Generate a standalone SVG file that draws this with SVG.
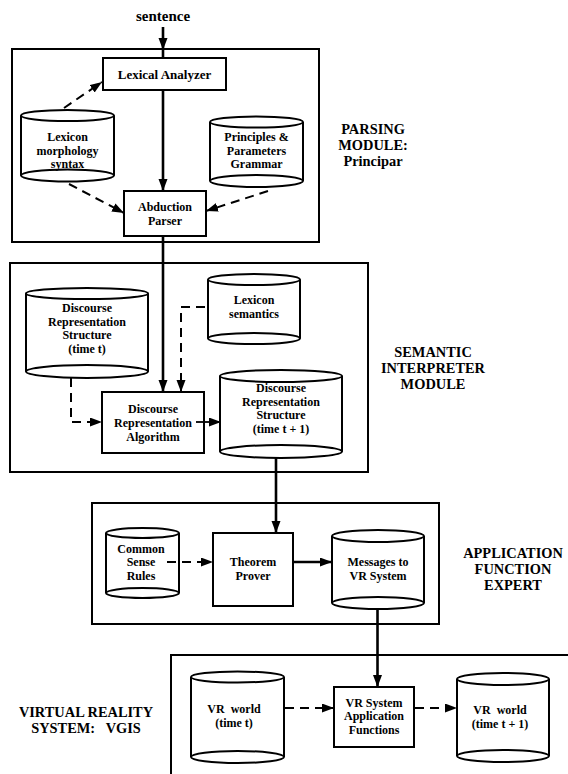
<svg xmlns="http://www.w3.org/2000/svg" width="568" height="774" viewBox="0 0 568 774">
<defs>
<style>
text{font-family:"Liberation Serif","Times New Roman",serif;font-weight:bold;fill:#000;text-anchor:middle}
.t{font-size:12px}
.lab{font-size:14.4px}
.mod{fill:none;stroke:#000;stroke-width:2}
.box{fill:#fff;stroke:#000;stroke-width:2}
.cyl{fill:none;stroke:#000;stroke-width:2}
.s{fill:none;stroke:#000;stroke-width:2.6}
.s2{fill:none;stroke:#000;stroke-width:1.8}
.d{fill:none;stroke:#000;stroke-width:2;stroke-dasharray:9 6}
</style>
<marker id="ah" markerUnits="userSpaceOnUse" markerWidth="13" markerHeight="10" refX="12" refY="4.5" orient="auto" viewBox="0 0 13 10"><path d="M0,0 L12,4.5 L0,9 z" fill="#000"/></marker>
</defs>
<rect width="568" height="774" fill="#fff"/>

<g id="modules">
<rect class="mod" x="12" y="49" width="307" height="193"/>
<rect class="mod" x="10" y="263" width="358" height="209"/>
<rect class="mod" x="92" y="503" width="347" height="121"/>
<path class="mod" d="M568,655 H171 V774"/>
</g>

<g id="module-labels">
<text class="lab" x="373" y="134">PARSING</text>
<text class="lab" x="373" y="150">MODULE:</text>
<text class="lab" x="373" y="166">Principar</text>
<text class="lab" x="433" y="357">SEMANTIC</text>
<text class="lab" x="433" y="373">INTERPRETER</text>
<text class="lab" x="433" y="389">MODULE</text>
<text class="lab" x="513" y="558">APPLICATION</text>
<text class="lab" x="513" y="574">FUNCTION</text>
<text class="lab" x="513" y="590">EXPERT</text>
<text class="lab" x="86" y="717">VIRTUAL REALITY</text>
<text class="lab" x="86" y="733">SYSTEM:&#160;&#160; VGIS</text>
</g>

<g id="sentence"><text x="163" y="21" style="font-size:15px">sentence</text></g>

<g id="lexical-analyzer">
<rect class="box" x="103" y="58" width="123" height="32"/>
<text x="164.5" y="79" style="font-size:13px">Lexical Analyzer</text>
</g>

<g id="lexicon-morph">
<path class="cyl" d="M21,115.5 V175.5 M114,115.5 V175.5"/>
<ellipse class="cyl" cx="67.5" cy="115.5" rx="46.5" ry="5.5"/>
<ellipse class="cyl" cx="67.5" cy="175.5" rx="46.5" ry="6"/>
<text class="t" x="67.5" y="141">Lexicon</text>
<text class="t" x="67.5" y="154.5">morphology</text>
<text class="t" x="67.5" y="168">syntax</text>
</g>

<g id="principles">
<path class="cyl" d="M210,122 V181 M303,122 V181"/>
<ellipse class="cyl" cx="256.5" cy="122" rx="46.5" ry="5.5"/>
<ellipse class="cyl" cx="256.5" cy="181" rx="46.5" ry="6"/>
<text class="t" x="256.5" y="141">Principles &amp;</text>
<text class="t" x="256.5" y="154.5">Parameters</text>
<text class="t" x="256.5" y="168">Grammar</text>
</g>

<g id="abduction-parser">
<rect class="box" x="124" y="191" width="82" height="45"/>
<text class="t" x="165" y="211">Abduction</text>
<text class="t" x="165" y="225">Parser</text>
</g>

<g id="drs-t">
<path class="cyl" d="M26,293.5 V371.5 M148,293.5 V371.5"/>
<ellipse class="cyl" cx="87" cy="293.5" rx="61" ry="5.5"/>
<ellipse class="cyl" cx="87" cy="371.5" rx="61" ry="6.5"/>
<text class="t" x="87" y="312">Discourse</text>
<text class="t" x="87" y="325.5">Representation</text>
<text class="t" x="87" y="339">Structure</text>
<text class="t" x="87" y="352.5">(time t)</text>
</g>

<g id="lexicon-semantics">
<path class="cyl" d="M208,279.5 V338.5 M300,279.5 V338.5"/>
<ellipse class="cyl" cx="254" cy="279.5" rx="46" ry="5.5"/>
<ellipse class="cyl" cx="254" cy="338.5" rx="46" ry="5.5"/>
<text class="t" x="254" y="304">Lexicon</text>
<text class="t" x="254" y="317.5">semantics</text>
</g>

<g id="dra">
<rect class="box" x="102" y="392" width="102" height="61"/>
<text class="t" x="153" y="413">Discourse</text>
<text class="t" x="153" y="427">Representation</text>
<text class="t" x="153" y="441">Algorithm</text>
</g>

<g id="drs-t1">
<path class="cyl" d="M220,376 V451.5 M342,376 V451.5"/>
<ellipse class="cyl" cx="281" cy="376" rx="61" ry="6"/>
<ellipse class="cyl" cx="281" cy="451.5" rx="61" ry="6.5"/>
<text class="t" x="281" y="392">Discourse</text>
<text class="t" x="281" y="405.5">Representation</text>
<text class="t" x="281" y="419">Structure</text>
<text class="t" x="281" y="432.5">(time t + 1)</text>
</g>

<g id="common-sense">
<path class="cyl" d="M106,533 V593 M179,533 V593"/>
<ellipse class="cyl" cx="142.5" cy="533" rx="36.5" ry="5"/>
<ellipse class="cyl" cx="142.5" cy="593" rx="36.5" ry="5"/>
<text class="t" x="141" y="552.5">Common</text>
<text class="t" x="141" y="566">Sense</text>
<text class="t" x="141" y="579.5">Rules</text>
</g>

<g id="theorem-prover">
<rect class="box" x="213" y="533" width="80" height="73"/>
<text class="t" x="253" y="566">Theorem</text>
<text class="t" x="253" y="579.5">Prover</text>
</g>

<g id="messages">
<path class="cyl" d="M332,536 V603 M424,536 V603"/>
<ellipse class="cyl" cx="378" cy="536" rx="46" ry="6"/>
<ellipse class="cyl" cx="378" cy="603" rx="46" ry="6"/>
<text class="t" x="378" y="566">Messages to</text>
<text class="t" x="378" y="579.5">VR System</text>
</g>

<g id="vr-world-t">
<path class="cyl" d="M191,677 V757 M284,677 V757"/>
<ellipse class="cyl" cx="237.5" cy="677" rx="46.5" ry="5.5"/>
<ellipse class="cyl" cx="237.5" cy="757" rx="46.5" ry="6"/>
<text class="t" x="234" y="713">VR&#160; world</text>
<text class="t" x="234" y="727">(time t)</text>
</g>

<g id="vr-app">
<rect class="box" x="334" y="687" width="80" height="60"/>
<text class="t" x="374" y="706.5">VR System</text>
<text class="t" x="374" y="720">Application</text>
<text class="t" x="374" y="733.5">Functions</text>
</g>

<g id="vr-world-t1">
<path class="cyl" d="M457,679 V756 M549,679 V756"/>
<ellipse class="cyl" cx="503" cy="679" rx="46" ry="6"/>
<ellipse class="cyl" cx="503" cy="756" rx="46" ry="6"/>
<text class="t" x="500" y="714">VR&#160; world</text>
<text class="t" x="500" y="727.5">(time t + 1)</text>
</g>

<g id="connectors">
<path class="s" d="M163,27 V50" marker-end="url(#ah)"/>
<path class="s" d="M163,49 V58"/>
<path class="s" d="M163,90 V191" marker-end="url(#ah)"/>
<path class="s" d="M163,236 V392" marker-end="url(#ah)"/>
<path class="d" d="M64,108 L102,82" marker-end="url(#ah)"/>
<path class="d" d="M69,184 L124,213" marker-end="url(#ah)"/>
<path class="d" d="M268,191 L206,211" marker-end="url(#ah)"/>
<path class="d" d="M71,378 V422 H102" marker-end="url(#ah)"/>
<path class="d" d="M205,307 H181 V392" marker-end="url(#ah)"/>
<path class="s2" d="M196,422 H221" marker-end="url(#ah)"/>
<path class="s" d="M276,458 V533" marker-end="url(#ah)"/>
<path class="d" d="M167,562 H213" marker-end="url(#ah)"/>
<path class="s" d="M293,562 H332" marker-end="url(#ah)"/>
<path class="s" d="M377.5,609 V687" marker-end="url(#ah)"/>
<path class="d" d="M285,708 H334" marker-end="url(#ah)"/>
<path class="d" d="M415,708 H457" marker-end="url(#ah)"/>
</g>
</svg>
